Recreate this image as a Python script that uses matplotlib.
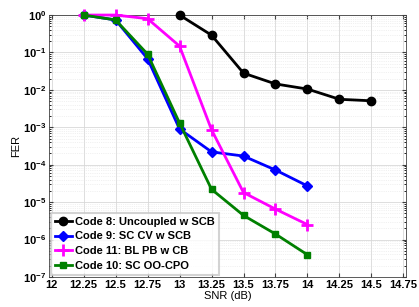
import matplotlib
matplotlib.use("Agg")
import matplotlib.pyplot as plt
from matplotlib.ticker import LogLocator, NullFormatter, FixedLocator

plt.rcParams['font.family'] = ['Liberation Sans', 'DejaVu Sans']
plt.rcParams['font.weight'] = 'bold'

# data
snr_8 = [13.0, 13.25, 13.5, 13.75, 14.0, 14.25, 14.5]
fer_8 = [1.0, 0.29, 0.028, 0.0144, 0.0105, 0.0056, 0.0051]

snr_9 = [12.25, 12.5, 12.75, 13.0, 13.25, 13.5, 13.75, 14.0]
fer_9 = [1.0, 0.74, 0.068, 9.0e-4, 2.2e-4, 1.7e-4, 7.2e-5, 2.7e-5]

snr_11 = [12.25, 12.5, 12.75, 13.0, 13.25, 13.5, 13.75, 14.0]
fer_11 = [1.0, 1.0, 0.8, 0.148, 8.6e-4, 1.8e-5, 6.5e-6, 2.5e-6]

snr_10 = [12.25, 12.5, 12.75, 13.0, 13.25, 13.5, 13.75, 14.0]
fer_10 = [1.0, 0.74, 0.09, 1.3e-3, 2.2e-5, 4.4e-6, 1.4e-6, 3.9e-7]

xticks = [12, 12.25, 12.5, 12.75, 13, 13.25, 13.5, 13.75, 14, 14.25, 14.5, 14.75]
xlabels = ['12', '12.25', '12.5', '12.75', '13', '13.25', '13.5', '13.75', '14', '14.25', '14.5', '14.75']

fig = plt.figure(figsize=(4.19, 3.07), dpi=100)
ax = fig.add_axes([0.117, 0.098, 0.852, 0.853])

ax.semilogy(snr_8, fer_8, '-o', color='black', lw=2, ms=6, label='Code 8: Uncoupled w SCB', zorder=3, clip_on=False)
ax.semilogy(snr_9, fer_9, '-D', color='blue', lw=2, ms=5, label='Code 9: SC CV w SCB', zorder=3, clip_on=False)
ax.semilogy(snr_11, fer_11, '-+', color='magenta', lw=2, ms=9, mew=2, label='Code 11: BL PB w CB', zorder=3, clip_on=False)
ax.semilogy(snr_10, fer_10, '-s', color='green', lw=2, ms=5, label='Code 10: SC OO-CPO', zorder=3, clip_on=False)

ax.set_xlim(11.98, 14.77)
ax.set_ylim(1e-7, 1.0)
ax.xaxis.set_major_locator(FixedLocator(xticks))
ax.set_xticklabels(xlabels)
ax.yaxis.set_major_locator(LogLocator(base=10, numticks=10))
ax.yaxis.set_minor_locator(LogLocator(base=10, subs=range(2, 10), numticks=10))
ax.yaxis.set_minor_formatter(NullFormatter())

ax.grid(True, which='major', color='#d8d8d8', lw=0.6)
ax.grid(True, which='minor', axis='y', color='#e4e4e4', lw=0.5, ls=':')
ax.tick_params(labelsize=8, direction='in', top=True, right=True, length=3, color='#404040', pad=2)
ax.tick_params(which='minor', direction='in', right=True, length=1.5)
for s in ax.spines.values():
    s.set_color('#404040')
    s.set_linewidth(0.6)

ax.set_xlabel('SNR (dB)', fontsize=8, labelpad=1)
ax.set_ylabel('FER', fontsize=8, labelpad=1)

leg = ax.legend(loc='lower left', fontsize=8, handlelength=1.5, borderpad=0.35,
                labelspacing=0.42, handletextpad=0.3, fancybox=False, borderaxespad=0.2)
leg.get_frame().set_edgecolor('#c8c8c8')
leg.get_frame().set_linewidth(1.5)
for t in leg.get_texts():
    t.set_fontweight('bold')

fig.savefig('out.png', dpi=100)
